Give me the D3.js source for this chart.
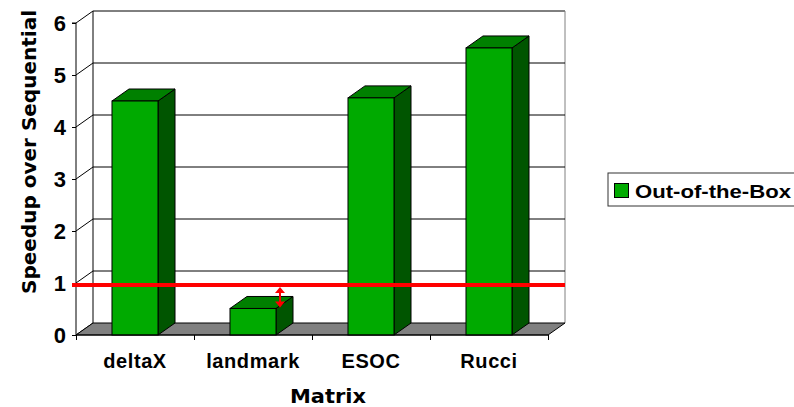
<!DOCTYPE html>
<html>
<head>
<meta charset="utf-8">
<script src="https://cdn.jsdelivr.net/npm/d3@7"></script>
<style>
  html, body { margin: 0; padding: 0; background: #fff; }
  svg { display: block; }
</style>
</head>
<body>
<svg id="chart" width="794" height="407"></svg>
<script>
// Speedup of each matrix relative to the sequential run
const categories = ["deltaX", "landmark", "ESOC", "Rucci"];
const speedups = [4.5, 0.51, 4.56, 5.52];
const yTicks = [0, 1, 2, 3, 4, 5, 6];
const seriesName = "Out-of-the-Box";
const sequentialLine = 0.96;

(function () {
const svg = d3.select("#chart");

// front plane of the 3-D box
const plotLeft = 76, plotRight = 548, plotBottom = 335, plotTop = 23;
const dx = 17, dy = 12; // depth offset

const x = d3.scaleBand().domain(categories).range([plotLeft, plotRight])
  .paddingInner(0.61).paddingOuter(0.305);
const y = d3.scaleLinear().domain([0, 6]).range([plotBottom, plotTop]);

const frontCol = "#00aa00", topCol = "#008000", sideCol = "#005500";
const bold = "'Liberation Sans', Arial, sans-serif";
const comic = "'DejaVu Sans', sans-serif";

const g = svg.append("g");

// back wall outline
g.append("line").attr("x1", plotLeft + dx).attr("x2", plotLeft + dx)
  .attr("y1", y(6) - dy).attr("y2", y(0) - dy).attr("stroke", "#000");
g.append("line").attr("x1", plotLeft + dx).attr("x2", plotRight + dx)
  .attr("y1", y(6) - dy).attr("y2", y(6) - dy).attr("stroke", "#000");
g.append("line").attr("x1", plotRight + dx).attr("x2", plotRight + dx)
  .attr("y1", y(6) - dy).attr("y2", y(0) - dy).attr("stroke", "#808080");

// gridlines: left side wall diagonal plus back wall horizontal
yTicks.forEach(t => {
  g.append("line").attr("x1", plotLeft).attr("y1", y(t))
    .attr("x2", plotLeft + dx).attr("y2", y(t) - dy).attr("stroke", "#000");
  if (t > 0 && t < 6) {
    g.append("line").attr("x1", plotLeft + dx).attr("x2", plotRight + dx)
      .attr("y1", y(t) - dy).attr("y2", y(t) - dy).attr("stroke", "#000");
  }
});

// floor
g.append("polygon")
  .attr("points", [[plotLeft, y(0)], [plotRight, y(0)], [plotRight + dx, y(0) - dy], [plotLeft + dx, y(0) - dy]].join(" "))
  .attr("fill", "#808080").attr("stroke", "#000").attr("stroke-width", 1);

// bars
categories.forEach((c, i) => {
  const x0 = x(c), x1 = x0 + x.bandwidth();
  const yt = y(speedups[i]), yb = y(0);
  const bar = g.append("g");
  bar.append("polygon")
    .attr("points", [[x1, yt], [x1 + dx, yt - dy], [x1 + dx, yb - dy], [x1, yb]].join(" "))
    .attr("fill", sideCol).attr("stroke", "#000");
  bar.append("polygon")
    .attr("points", [[x0, yt], [x1, yt], [x1 + dx, yt - dy], [x0 + dx, yt - dy]].join(" "))
    .attr("fill", topCol).attr("stroke", "#000");
  bar.append("rect").attr("x", x0).attr("y", yt)
    .attr("width", x.bandwidth()).attr("height", yb - yt)
    .attr("fill", frontCol).attr("stroke", "#000");
});

// y axis
const yAxis = d3.axisLeft(y).tickValues(yTicks).tickFormat(d3.format("d")).tickSize(4).tickPadding(6);
const ya = svg.append("g").attr("transform", `translate(${plotLeft},0)`).call(yAxis);
ya.select(".domain").attr("stroke", "#000").attr("d", `M-4,${y(6)}H0V${y(0)}`);
ya.selectAll("line").attr("stroke", "#000");
ya.selectAll("text").attr("font-family", bold).attr("font-weight", "bold")
  .attr("font-size", 22).attr("fill", "#000").attr("dy", "0.36em");

// x axis
const xAxis = d3.axisBottom(d3.scaleLinear().domain([0, 4]).range([plotLeft, plotRight]))
  .tickValues([0, 1, 2, 3, 4]).tickSize(5).tickFormat("");
const xa = svg.append("g").attr("transform", `translate(0,${plotBottom})`).call(xAxis);
xa.select(".domain").attr("stroke", "#000").attr("d", `M${plotLeft},0H${plotRight}`);
xa.selectAll("line").attr("stroke", "#000");

svg.append("g").selectAll("text").data(categories).join("text")
  .attr("x", d => x(d) + x.bandwidth() / 2).attr("y", 368)
  .attr("text-anchor", "middle")
  .attr("font-family", bold).attr("font-weight", "bold").attr("font-size", 20)
  .attr("letter-spacing", 0.6)
  .text(d => d);

// sequential reference line
const yl = y(sequentialLine);
svg.append("line").attr("x1", 72).attr("x2", plotRight + dx)
  .attr("y1", yl).attr("y2", yl).attr("stroke", "#ff0000").attr("stroke-width", 4);

// arrow between the reference line and the landmark bar
const ax = x("landmark") + x.bandwidth() + 4;
const ay1 = yl + 2, ay2 = y(speedups[1]) - 1;
svg.append("line").attr("x1", ax).attr("x2", ax).attr("y1", ay1 + 5).attr("y2", ay2 - 5)
  .attr("stroke", "#ff0000").attr("stroke-width", 2);
svg.append("polygon").attr("points", [[ax, ay1], [ax - 5, ay1 + 6], [ax + 5, ay1 + 6]].join(" "))
  .attr("fill", "#ff0000");
svg.append("polygon").attr("points", [[ax, ay2], [ax - 5, ay2 - 6], [ax + 5, ay2 - 6]].join(" "))
  .attr("fill", "#ff0000");

// axis titles
svg.append("text").attr("transform", `translate(36,${(8 + 296) / 2}) rotate(-90)`)
  .attr("text-anchor", "middle").attr("font-family", comic).attr("font-weight", "bold")
  .attr("font-size", 19).attr("textLength", 284).attr("lengthAdjust", "spacingAndGlyphs")
  .text("Speedup over Sequential");
svg.append("text").attr("x", 328).attr("y", 403)
  .attr("text-anchor", "middle").attr("font-family", comic).attr("font-weight", "bold")
  .attr("font-size", 19).attr("textLength", 76).attr("lengthAdjust", "spacingAndGlyphs")
  .text("Matrix");

// legend
const lg = svg.append("g");
lg.append("rect").attr("x", 608).attr("y", 173).attr("width", 200).attr("height", 33)
  .attr("fill", "#fff").attr("stroke", "#333");
lg.append("rect").attr("x", 614.5).attr("y", 183.5).attr("width", 14).attr("height", 14)
  .attr("fill", frontCol).attr("stroke", "#000");
lg.append("text").attr("x", 635).attr("y", 197.5)
  .attr("font-family", bold).attr("font-weight", "bold").attr("font-size", 17.5)
  .attr("textLength", 156).attr("lengthAdjust", "spacingAndGlyphs")
  .text(seriesName);
})();
</script>
</body>
</html>
